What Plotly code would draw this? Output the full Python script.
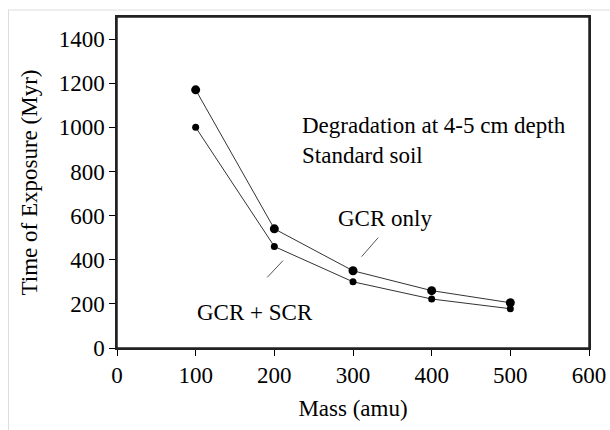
import plotly.graph_objects as go

mass = [100, 200, 300, 400, 500]
gcr_only = [1170, 540, 350, 260, 205]
gcr_scr = [1000, 460, 300, 222, 178]

font_family = "Liberation Serif, Times New Roman, serif"

W, H = 610, 430
L, R, T, B = 117, 21, 17, 82
PW, PH = W - L - R, H - T - B

fig = go.Figure()
fig.add_trace(go.Scatter(x=mass, y=gcr_only, mode="lines+markers",
                         line=dict(color="#333333", width=1),
                         marker=dict(symbol="circle", size=9, color="black"),
                         name="GCR only"))
fig.add_trace(go.Scatter(x=mass, y=gcr_scr, mode="lines+markers",
                         line=dict(color="#333333", width=1),
                         marker=dict(symbol="circle", size=7, color="black"),
                         name="GCR + SCR"))

fs = 23
fig.update_layout(
    width=W, height=H,
    margin=dict(l=L, r=R, t=T, b=B),
    paper_bgcolor="white", plot_bgcolor="white",
    showlegend=False,
    font=dict(family=font_family, size=fs, color="black"),
    xaxis=dict(range=[0, 600], tickvals=[0, 100, 200, 300, 400, 500, 600],
               showgrid=False, zeroline=False, showline=True, linecolor="#222222",
               linewidth=1.5, mirror=True, ticks="outside", ticklen=6, tickcolor="black",
               tickfont=dict(family=font_family, size=fs),
               automargin=False,
               title=dict(text="Mass (amu)", font=dict(family=font_family, size=fs), standoff=13)),
    yaxis=dict(range=[0, 1500], tickvals=[0, 200, 400, 600, 800, 1000, 1200, 1400],
               showgrid=False, zeroline=False, showline=True, linecolor="#222222",
               linewidth=1.5, mirror=True, ticks="outside", ticklen=6, tickcolor="black",
               tickfont=dict(family=font_family, size=fs),
               automargin=False,
               title=dict(text="Time of Exposure (Myr)", font=dict(family=font_family, size=fs), standoff=15)),
)

ann_font = dict(family=font_family, size=fs)
fig.add_annotation(x=233, y=942, xref="x", yref="y", xanchor="left",
                   text="Degradation at 4-5 cm depth<br>Standard soil",
                   showarrow=False, align="left", font=ann_font)
fig.add_annotation(x=341, y=589, xref="x", yref="y", text="GCR only",
                   showarrow=False, font=ann_font)
fig.add_annotation(x=176, y=163, xref="x", yref="y", text="GCR + SCR",
                   showarrow=False, font=ann_font)
# leader lines
fig.add_shape(type="line", xref="x", yref="y", x0=332, y0=500, x1=311, y1=414,
              line=dict(color="#555555", width=1))
fig.add_shape(type="line", xref="x", yref="y", x0=211, y0=396, x1=191, y1=320,
              line=dict(color="#555555", width=1))
# plot frame
fig.add_shape(type="rect", xref="paper", yref="paper", x0=0, x1=1, y0=0, y1=1,
              line=dict(color="#222222", width=1.5), layer="above")
# faint page border (top and left)
fig.add_shape(type="line", xref="paper", yref="paper",
              x0=-(L - 8) / PW, x1=1 + R / PW, y0=1 + (T - 10) / PH, y1=1 + (T - 10) / PH,
              line=dict(color="#dddddd", width=1))
fig.add_shape(type="line", xref="paper", yref="paper",
              x0=-(L - 8.5) / PW, x1=-(L - 8.5) / PW, y0=-B / PH, y1=1 + (T - 10) / PH,
              line=dict(color="#dddddd", width=1))

fig.write_html("out.html", config={"displayModeBar": False},
               post_script="document.body.style.margin='0';document.body.style.overflow='hidden';")
